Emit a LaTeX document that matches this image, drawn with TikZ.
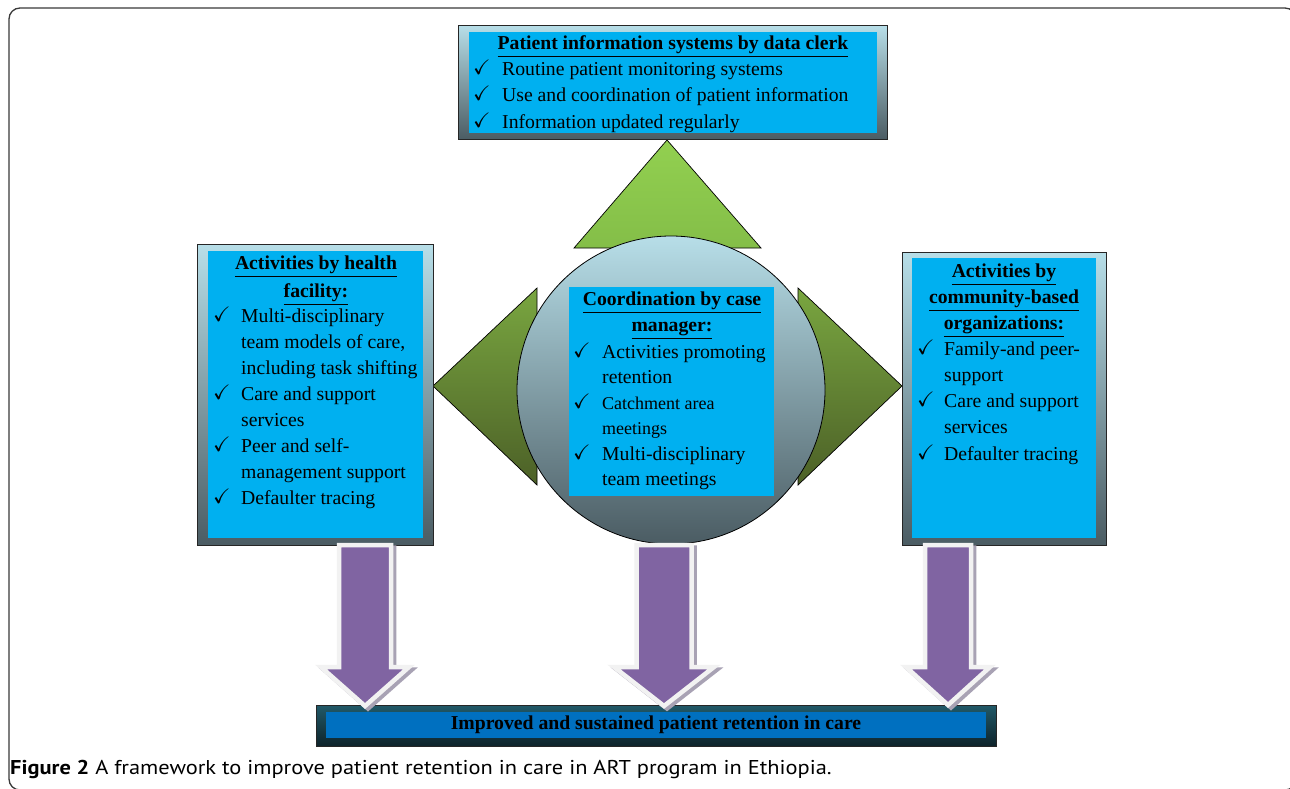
\documentclass[tikz,border=0pt]{standalone}
\usepackage{amssymb}
\usepackage{fontspec}
\setmainfont{Liberation Serif}
\newfontfamily\capfont{PT Sans}
\usetikzlibrary{calc}
\definecolor{boxtop}{HTML}{B7DEE8}
\definecolor{boxbot}{HTML}{4B5C63}
\definecolor{cyanfill}{HTML}{00B0F0}
\definecolor{bartop}{HTML}{215968}
\definecolor{barbot}{HTML}{0E232A}
\definecolor{barblue}{HTML}{0070C0}
\definecolor{ltgreentop}{HTML}{92D050}
\definecolor{ltgreenbot}{HTML}{84BE48}
\definecolor{dkgreentop}{HTML}{79A640}
\definecolor{dkgreenbot}{HTML}{4C6027}
\definecolor{arrowpurple}{HTML}{8064A2}
\definecolor{arrowrim}{HTML}{F2F2F2}
\definecolor{arrowshadow}{HTML}{A8A2B4}
\definecolor{framecol}{HTML}{3A3A3A}
\newcommand\ck{{\fontsize{21}{21}\selectfont\raisebox{1pt}{$\checkmark$}}}
\newcommand\blockarrow[6]{%
  \draw[arrowshadow, line width=4.5pt, fill=arrowshadow, xshift=3pt, yshift=-2.5pt]
    (#1-#5,#2) -- (#1+#5,#2) -- (#1+#5,#3) -- (#1+#6,#3) -- (#1,#4) -- (#1-#6,#3) -- (#1-#5,#3) -- cycle;
  \draw[arrowrim, line width=4.5pt, fill=arrowpurple]
    (#1-#5,#2) -- (#1+#5,#2) -- (#1+#5,#3) -- (#1+#6,#3) -- (#1,#4) -- (#1-#6,#3) -- (#1-#5,#3) -- cycle;
}
\tikzset{
  outerbox/.style={draw=black!85, line width=0.8pt, top color=boxtop, bottom color=boxbot,
    inner sep=0pt, anchor=north west, rectangle},
  innerbox/.style={fill=cyanfill, draw=none, inner sep=0pt, anchor=north west, rectangle},
  ttl/.style={inner sep=0pt, font=\fontsize{19.7}{26}\selectfont\bfseries, align=center, anchor=base},
  lst/.style={inner sep=0pt, font=\fontsize{19.7}{26}\selectfont, anchor=base west},
  greentri/.style={draw=black, line width=0.7pt, top color=ltgreentop, bottom color=ltgreenbot},
  darktri/.style={draw=black, line width=0.7pt, top color=dkgreentop, bottom color=dkgreenbot},
}
\begin{document}
\begin{tikzpicture}[x=1pt,y=-1pt]
\useasboundingbox (0,0) rectangle (1290,788);
\fill[white] (0,0) rectangle (1290,788);
\begin{scope}
\clip (0,0) rectangle (1290,788);
\draw[framecol, line width=1.3pt, rounded corners=11pt] (9,8) rectangle (1296,790);
\end{scope}

% triangles behind the hub
\draw[greentri] (667,140) -- (761,248) -- (574,248) -- cycle;
\draw[darktri] (433,386) -- (537,288) -- (537,485) -- cycle;
\draw[darktri] (798,288) -- (902,386) -- (798,485) -- cycle;

% hub
\node[circle, draw=black, line width=0.8pt, inner sep=0pt, minimum size=308pt,
  top color=boxtop, bottom color=boxbot] (hub) at (671,390) {};
\node[innerbox, minimum width=205pt, minimum height=209pt] (hubin) at (569,287) {};
\node[ttl] (hubttl) at (672,331) {\underline{Coordination by case}\\\underline{manager:}};
\node[lst, font=\fontsize{19.7}{25.5}\selectfont] (hublst) at (573,358)
  {\begin{tabular}[t]{@{}p{29pt}@{}l@{}}
   \ck & Activities promoting\\
       & retention\\
   \ck & {\fontsize{18}{20}\selectfont Catchment area}\\
       & {\fontsize{18}{20}\selectfont meetings}\\
   \ck & Multi-disciplinary\\
       & team meetings
   \end{tabular}};

% top box
\node[outerbox, minimum width=429pt, minimum height=114pt] (topbox) at (458,25) {};
\node[innerbox, minimum width=408pt, minimum height=101pt] (topin) at (469,32) {};
\node[ttl] (topttl) at (673,49) {\underline{Patient information systems by data clerk}};
\node[lst, font=\fontsize{19.7}{26.5}\selectfont] (toplst) at (473,75)
  {\begin{tabular}[t]{@{}p{29pt}@{}l@{}}
   \ck & Routine patient monitoring systems\\
   \ck & Use and coordination of patient information\\
   \ck & Information updated regularly
   \end{tabular}};

% left box
\node[outerbox, minimum width=236pt, minimum height=301pt] (lbox) at (197,244) {};
\node[innerbox, minimum width=215pt, minimum height=287pt] (lin) at (208,251) {};
\node[ttl, font=\fontsize{19.7}{28}\selectfont\bfseries] (lttl) at (316,297) {\underline{Activities by health}\\\underline{facility:}};
\node[lst] (llst) at (213,322)
  {\begin{tabular}[t]{@{}p{28pt}@{}l@{}}
   \ck & Multi-disciplinary\\
       & team models of care,\\
       & including task shifting\\
   \ck & Care and support\\
       & services\\
   \ck & Peer and self-\\
       & management support\\
   \ck & Defaulter tracing
   \end{tabular}};

% right box
\node[outerbox, minimum width=204pt, minimum height=293pt] (rbox) at (902,252) {};
\node[innerbox, minimum width=184pt, minimum height=280pt] (rin) at (912,258) {};
\node[ttl] (rttl) at (1004,329) {\underline{Activities by}\\\underline{community-based}\\\underline{organizations:}};
\node[lst, font=\fontsize{19.7}{26.25}\selectfont] (rlst) at (917,355)
  {\begin{tabular}[t]{@{}p{27pt}@{}l@{}}
   \ck & Family-and peer-\\
       & support\\
   \ck & Care and support\\
       & services\\
   \ck & Defaulter tracing
   \end{tabular}};

% bottom bar
\node[rectangle, draw=black!85, line width=0.8pt, top color=bartop, bottom color=barbot,
  inner sep=0pt, anchor=north west, minimum width=680pt, minimum height=41pt] (bar) at (316,705) {};
\node[rectangle, fill=barblue, inner sep=0pt, anchor=north west,
  minimum width=660pt, minimum height=26pt] (barin) at (326,712) {};
\node[ttl] (bartxt) at (656,729) {Improved and sustained patient retention in care};

% block arrows from boxes to bar
\blockarrow{365}{545}{667}{706}{26}{44}
\blockarrow{664}{545}{667}{706}{27.5}{50}
\blockarrow{948}{545}{667}{705}{23}{42}

% caption
\node[anchor=base west, inner sep=0pt, font=\capfont\fontsize{20}{22}\selectfont] (cap) at (10,774)
  {\scalebox{1.12}[1]{\textbf{Figure 2} A framework to improve patient retention in care in ART program in Ethiopia.}};
\end{tikzpicture}
\end{document}
